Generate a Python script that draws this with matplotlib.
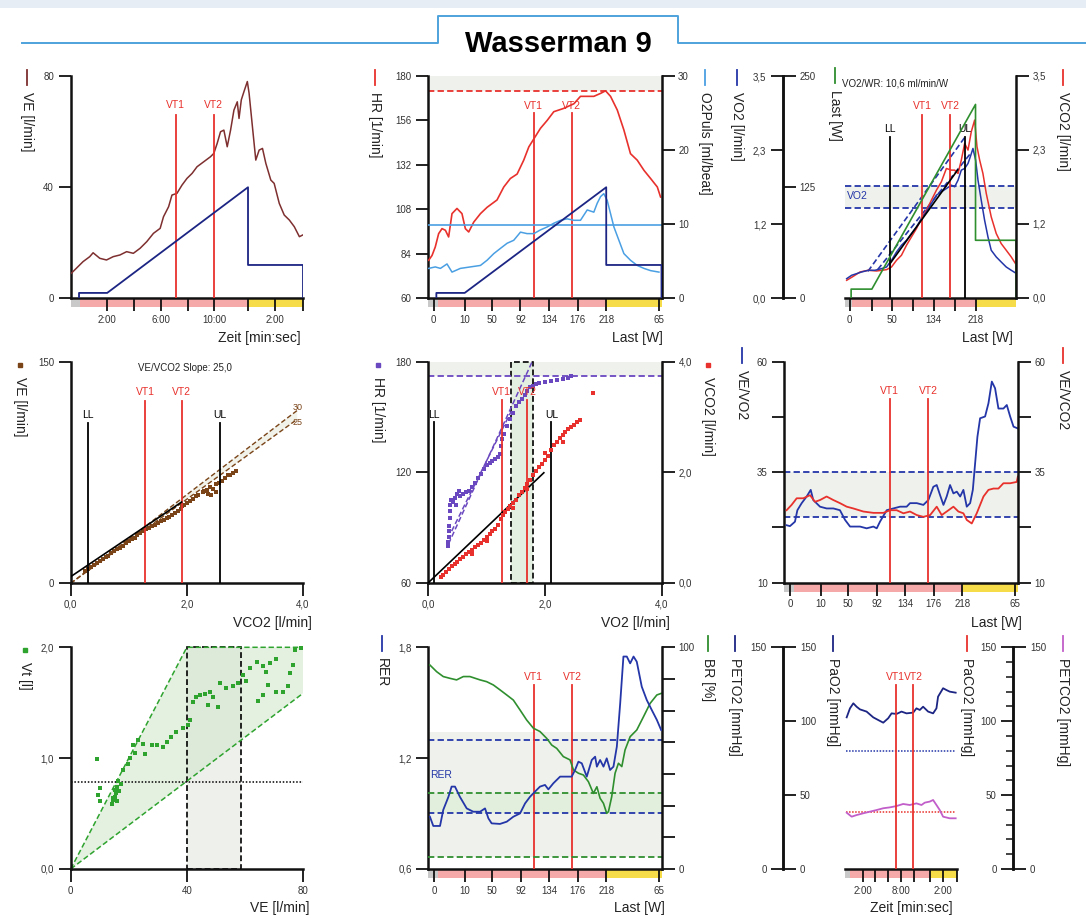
import matplotlib.pyplot as plt
from matplotlib import font_manager
from matplotlib.lines import Line2D
from matplotlib.patches import Rectangle, Polygon

plt.rcParams['font.family'] = ['Liberation Sans', 'DejaVu Sans']

# colours
RED = '#e8312c'
NAVY = '#1c2583'
BROWN = '#7e2f2f'
LBLUE = '#4a9fe3'
BLUE = '#2436a8'
GREEN = '#2f8f2f'
PURPLE = '#6a48c0'
MAGENTA = '#c25ec9'
SCATBROWN = '#7a4418'
SCATGREEN = '#2ea32e'
FILL = '#eff2ec'
DASH = (0, (3.5, 1.8))

# protocol (time in minutes)
t_start, t_end = -0.72, 16.6
phase_edges = [-0.72, 0.0, 12.5, 16.6]
phase_colors = ['#c9c9c9', '#f5a9a9', '#f6dc48']
load_t = [-0.1, -0.1, 2.0, 12.5, 12.5, 16.6, 16.6]
load_w = [0, 10, 10, 218, 65, 65, 0]
vt_t = [7.12, 9.95]
load_tick_t = [-0.3, 2, 4.02, 6.14, 8.26, 10.38, 12.5, 16.4]
load_tick_lab = ['0', '10', '50', '92', '134', '176', '218', '65']

# panel 1: VE over time
ve_t = [-0.68, -0.30, 0.20, 0.70, 0.95, 1.45, 1.95, 2.45, 2.95, 3.45, 3.95, 4.45, 4.95, 5.45,
        5.95, 6.20, 6.58, 6.83, 7.20, 7.58, 7.95, 8.33, 8.70, 9.20, 9.70, 9.95, 10.20, 10.45,
        10.70, 10.95, 11.20, 11.45, 11.70, 11.83, 12.00, 12.20, 12.45, 12.58, 12.83, 13.08,
        13.33, 13.58, 13.83, 14.20, 14.45, 14.83, 15.20, 15.58, 15.95, 16.33, 16.58]
ve_val = [8.9, 10.7, 13.1, 14.9, 16.3, 14.3, 13.7, 14.9, 15.5, 16.7, 16.1, 17.9, 20.3, 23.3,
          25.1, 29.3, 32.9, 37.1, 37.7, 40.7, 43.1, 44.9, 47.3, 49.1, 50.9, 52.1, 55.7, 59.9,
          60.5, 54.5, 60.5, 67.7, 70.7, 64.7, 71.4, 74.4, 78.0, 73.8, 61.7, 49.7, 53.3, 53.9,
          48.5, 42.5, 41.3, 34.1, 29.9, 28.1, 25.7, 22.1, 22.7]

# panel 2: HR and O2 pulse
hr_t = [-0.67, -0.42, -0.18, 0.07, 0.32, 0.57, 0.81, 1.06, 1.43, 1.80, 2.05, 2.30, 2.67, 3.17,
        3.66, 4.40, 4.90, 5.39, 5.89, 6.38, 6.76, 7.13, 7.62, 8.12, 8.61, 9.35, 10.10, 10.59,
        11.58, 12.08, 12.45, 12.82, 13.32, 13.81, 14.30, 14.80, 15.30, 15.79, 16.29, 16.53]
hr_val = [80.4, 83, 87.6, 94.8, 97.5, 96.6, 93, 105.6, 108.4, 105.6, 97.5, 95.7, 101, 105.6,
          109, 113, 120, 124.6, 127, 134.5, 141.7, 146, 151.7, 156, 160.7, 162.5, 165, 169,
          169, 170.6, 172, 169, 161.6, 150.8, 138, 134.5, 129, 124.6, 120, 114.6]
o2p_t = [-0.67, -0.18, 0.20, 0.69, 1.06, 1.68, 2.42, 3.17, 3.66, 4.16, 4.65, 5.15, 5.64, 6.14,
         6.63, 7.13, 7.62, 8.12, 8.61, 9.11, 9.60, 10.10, 10.59, 11.09, 11.58, 11.83, 12.08,
         12.32, 12.57, 12.82, 13.07, 13.44, 13.81, 14.30, 14.80, 15.30, 15.79, 16.41]
o2p_val = [4.0, 4.2, 4.0, 4.6, 3.5, 4.0, 4.2, 4.4, 5.1, 6.0, 6.7, 7.4, 7.8, 8.9, 8.7, 8.7, 9.2,
           9.6, 10.1, 10.5, 10.7, 10.5, 10.5, 11.9, 11.6, 12.8, 13.7, 14.1, 13.2, 11.4, 9.6,
           7.8, 6.0, 5.1, 4.4, 4.0, 3.7, 3.5]

# panel 3: VO2 / VCO2 / load
vo2_t = [-0.55, -0.05, 0.46, 0.96, 1.64, 2.31, 2.98, 3.49, 3.99, 4.50, 5.00, 5.51, 6.01, 6.52,
         7.02, 7.53, 8.03, 8.54, 9.04, 9.55, 10.05, 10.39, 10.73, 11.06, 11.40, 11.74, 11.97,
         12.24, 12.51, 12.75, 13.08, 13.42, 13.76, 14.09, 14.60, 15.10, 15.61, 16.12, 16.55]
vo2_val = [0.305, 0.358, 0.384, 0.41, 0.437, 0.437, 0.463, 0.489, 0.595, 0.726, 0.832, 0.91,
           1.016, 1.121, 1.253, 1.358, 1.49, 1.621, 1.674, 1.726, 1.779, 1.753, 1.858, 2.016,
           2.042, 2.121, 2.226, 2.358, 2.174, 1.858, 1.542, 1.226, 0.963, 0.753, 0.647, 0.568,
           0.489, 0.437, 0.395]
vco2_t = [-0.55, 0.12, 0.80, 1.64, 2.48, 3.49, 3.99, 4.50, 5.00, 5.51, 6.01, 6.52, 7.02, 7.53,
          8.03, 8.54, 9.04, 9.55, 10.05, 10.39, 10.73, 11.06, 11.40, 11.74, 12.07, 12.41,
          12.65, 12.92, 13.25, 13.59, 14.09, 14.60, 15.10, 15.61, 16.12, 16.55]
vco2_val = [0.279, 0.342, 0.41, 0.437, 0.426, 0.447, 0.489, 0.595, 0.674, 0.832, 0.963, 1.095,
            1.253, 1.384, 1.542, 1.70, 1.832, 2.042, 2.016, 2.016, 1.963, 2.174, 2.437, 2.332,
            2.621, 2.805, 2.384, 2.174, 1.963, 1.647, 1.279, 1.016, 0.858, 0.753, 0.647, 0.542]

# panel 4: VE vs VCO2
ve_vco2 = [0.25, 0.30, 0.35, 0.40, 0.45, 0.50, 0.55, 0.60, 0.65, 0.70, 0.75, 0.80, 0.85, 0.90,
           0.95, 1.00, 1.05, 1.10, 1.15, 1.20, 1.25, 1.30, 1.35, 1.40, 1.45, 1.50, 1.55, 1.60,
           1.65, 1.70, 1.75, 1.80, 1.85, 1.90, 1.92, 1.95, 2.00, 2.05, 2.10, 2.15, 2.20, 2.28,
           2.30, 2.35, 2.37, 2.40, 2.42, 2.45, 2.50, 2.50, 2.55, 2.60, 2.65, 2.70, 2.75, 2.80, 2.85]
ve_pts = [8.5, 9.8, 11.0, 12.2, 13.6, 15.0, 16.2, 17.5, 18.8, 20.2, 21.6, 23.0, 24.2, 25.5,
          27.0, 28.3, 29.8, 31.0, 32.4, 33.8, 35.2, 36.6, 37.6, 38.6, 39.8, 41.0, 42.0, 43.0,
          44.2, 45.2, 46.4, 47.6, 49.0, 50.5, 52.5, 53.0, 54.5, 55.8, 57.0, 58.8, 60.0, 61.5,
          62.5, 63.0, 60.5, 65.5, 59.5, 64.0, 67.0, 62.0, 68.2, 69.5, 71.5, 73.0, 73.5, 74.8, 76.0]

# panel 5: HR and VCO2 vs VO2
hr_vo2 = [0.33, 0.34, 0.35, 0.35, 0.36, 0.37, 0.38, 0.38, 0.39, 0.42, 0.45, 0.50, 0.55, 0.60,
          0.65, 0.70, 0.75, 0.80, 0.85, 0.90, 0.95, 1.00, 1.05, 1.10, 1.15, 1.20, 1.23, 1.25,
          1.27, 1.30, 1.35, 1.40, 1.45, 1.50, 1.55, 1.60, 1.65, 1.70, 1.75, 1.80, 1.85, 1.90,
          2.00, 2.10, 2.20, 2.30, 2.40, 2.45, 0.48, 0.52]
hr_pts = [80, 82, 85, 88, 91, 95, 99, 102, 105, 104, 106, 108, 107, 108, 109, 110, 112, 114,
          117, 119, 122, 124, 125, 126, 127, 128, 130, 134, 138, 141, 145, 149, 152, 156, 158,
          160, 162, 164, 166, 167, 168, 168.5, 169, 169.5, 170, 170.5, 171, 172, 102, 110]
vc_vo2 = [0.22, 0.25, 0.30, 0.35, 0.40, 0.45, 0.50, 0.55, 0.60, 0.65, 0.70, 0.75, 0.80, 0.85,
          0.90, 0.95, 1.00, 1.05, 1.10, 1.15, 1.20, 1.25, 1.28, 1.32, 1.36, 1.40, 1.45, 1.50,
          1.55, 1.60, 1.65, 1.70, 1.75, 1.80, 1.85, 1.90, 1.95, 2.00, 2.05, 2.10, 2.15, 2.20,
          2.25, 2.30, 2.35, 2.40, 2.45, 2.50, 2.55, 2.60, 2.83, 1.00, 0.75, 1.45, 1.70, 2.00, 2.30]
vc_pts = [0.10, 0.14, 0.20, 0.24, 0.30, 0.34, 0.38, 0.42, 0.47, 0.52, 0.56, 0.60, 0.64, 0.68,
          0.72, 0.78, 0.83, 0.88, 0.93, 0.98, 1.05, 1.15, 1.22, 1.28, 1.33, 1.38, 1.44, 1.50,
          1.58, 1.65, 1.72, 1.78, 1.86, 1.95, 2.03, 2.10, 2.15, 2.22, 2.30, 2.40, 2.50, 2.55,
          2.62, 2.68, 2.72, 2.78, 2.82, 2.86, 2.90, 2.95, 3.43, 0.75, 0.52, 1.35, 1.70, 2.35, 2.55]

# panel 6: ventilatory equivalents
eqo2_t = [-0.55, -0.30, 0.07, 0.25, 0.57, 0.94, 1.24, 1.43, 1.93, 2.42, 2.92, 3.41, 3.79, 4.16,
          4.90, 5.39, 5.89, 6.14, 6.38, 6.88, 7.37, 7.87, 8.36, 8.61, 9.11, 9.60, 9.97, 10.34,
          10.59, 10.84, 11.09, 11.33, 11.58, 11.83, 12.08, 12.33, 12.57, 12.82, 13.07, 13.27,
          13.44, 13.61, 13.81, 14.18, 14.43, 14.68, 14.92, 15.17, 15.54, 15.79, 16.04, 16.29, 16.61]
eqo2_val = [23.0, 22.8, 23.8, 26.4, 28.0, 29.5, 31.0, 28.7, 27.2, 26.8, 26.8, 26.4, 24.2, 22.7,
            22.7, 22.3, 22.7, 22.3, 23.8, 26.4, 26.8, 27.2, 27.2, 28.0, 28.0, 27.6, 28.7, 31.7,
            32.1, 29.8, 27.6, 29.5, 32.1, 30.2, 30.6, 29.5, 31.0, 27.2, 28.0, 31.0, 37.0, 43.0,
            47.2, 47.6, 50.6, 55.5, 54.0, 49.4, 49.4, 50.2, 47.6, 45.3, 44.9]
eqco2_t = [-0.55, -0.18, 0.20, 0.69, 1.19, 1.56, 1.93, 2.42, 2.92, 3.41, 3.91, 4.40, 5.15,
           5.89, 6.63, 7.13, 7.62, 8.12, 8.61, 9.11, 9.60, 10.10, 10.59, 10.96, 11.33, 11.83,
           12.20, 12.57, 12.82, 13.19, 13.56, 14.06, 14.43, 14.80, 15.17, 15.54, 16.04, 16.53, 16.61]
eqco2_val = [26.4, 27.6, 29.1, 29.1, 29.8, 28.3, 28.7, 29.5, 28.7, 28.0, 27.2, 26.8, 26.1, 25.8,
             25.8, 26.4, 26.4, 25.7, 26.1, 25.3, 24.9, 25.3, 27.2, 25.3, 26.1, 27.2, 26.1, 25.7,
             24.2, 23.4, 25.7, 29.5, 31.0, 31.3, 31.3, 32.5, 32.5, 32.8, 34.0]

# panel 7: Vt vs VE
vt_ve = [9.2, 10.1, 9.5, 10.1, 14.1, 15.2, 15.8, 16.4, 15.2, 14.7, 16.0, 14.5, 15.5, 16.8, 17.2,
         18.1, 19.8, 21.5, 23.3, 25.0, 25.5, 27.9, 29.6, 31.9, 33.0, 34.7, 36.4, 38.7, 40.5,
         41.0, 42.2, 43.3, 44.5, 46.2, 47.9, 47.3, 49.1, 50.8, 51.3, 53.6, 55.9, 57.6, 59.4,
         60.5, 61.7, 64.0, 66.2, 67.4, 68.5, 70.8, 73.1, 74.8, 75.4, 76.6, 77.1, 79.4, 64.5,
         66.2, 68.0, 70.8, 20.5, 22.0]
vt_l = [0.99, 0.73, 0.67, 0.61, 0.59, 0.65, 0.74, 0.79, 0.71, 0.64, 0.61, 0.62, 0.69, 0.70,
        0.77, 0.89, 0.95, 1.12, 1.16, 1.13, 1.04, 1.12, 1.12, 1.10, 1.15, 1.19, 1.24, 1.27,
        1.30, 1.34, 1.51, 1.55, 1.57, 1.58, 1.60, 1.48, 1.55, 1.46, 1.68, 1.63, 1.65, 1.68,
        1.75, 1.70, 1.81, 1.87, 1.83, 1.78, 1.86, 1.89, 1.60, 1.65, 1.77, 1.84, 1.98, 1.99,
        1.52, 1.57, 1.66, 1.60, 1.00, 1.05]

# panel 8: RER and breathing reserve
rer_t = [-0.60, -0.35, 0.15, 0.39, 0.77, 1.01, 1.26, 1.63, 2.13, 2.62, 3.12, 3.49, 3.74, 3.98,
         4.60, 5.10, 5.59, 6.09, 6.46, 6.83, 7.20, 7.57, 7.94, 8.19, 8.56, 9.06, 9.55, 9.92,
         10.17, 10.42, 10.67, 11.04, 11.41, 11.66, 11.79, 12.03, 12.28, 12.52, 12.77, 13.02,
         13.27, 13.52, 13.76, 14.01, 14.26, 14.51, 14.75, 15.12, 15.49, 15.86, 16.24, 16.56]
rer_val = [0.883, 0.833, 0.833, 0.92, 0.99, 1.046, 1.046, 0.99, 0.928, 0.91, 0.91, 0.928, 0.874,
           0.847, 0.844, 0.856, 0.883, 0.901, 0.955, 0.991, 1.019, 1.046, 1.055, 1.031, 1.064,
           1.10, 1.10, 1.10, 1.136, 1.181, 1.172, 1.10, 1.19, 1.208, 1.154, 1.19, 1.154, 1.199,
           1.136, 1.154, 1.262, 1.497, 1.75, 1.75, 1.713, 1.75, 1.722, 1.587, 1.515, 1.461,
           1.407, 1.352]
br_t = [-0.60, -0.10, 0.39, 0.89, 1.38, 1.88, 2.37, 3.12, 3.61, 4.11, 4.60, 5.10, 5.59, 6.09,
        6.58, 7.08, 7.57, 8.07, 8.44, 8.81, 9.30, 9.80, 10.05, 10.42, 10.79, 11.16, 11.53,
        11.79, 12.03, 12.28, 12.52, 12.65, 12.89, 13.14, 13.39, 13.64, 13.88, 14.26, 14.75,
        15.25, 15.74, 16.24, 16.56]
br_val = [92.0, 89.0, 86.8, 86.0, 85.3, 86.8, 86.8, 85.3, 84.5, 83.0, 80.8, 78.5, 76.2, 71.7,
          67.2, 63.5, 62.0, 58.9, 55.9, 54.4, 50.7, 49.2, 44.7, 43.2, 42.4, 39.4, 34.1, 37.1,
          31.9, 29.6, 25.1, 25.9, 32.6, 43.2, 47.7, 46.2, 53.7, 59.7, 62.7, 68.7, 74.7, 78.5, 79.2]

# panel 9: gas tensions
po2_t = [-0.46, 0.05, 0.57, 1.08, 1.60, 2.63, 3.66, 4.43, 5.21, 5.98, 6.50, 7.27, 8.04, 8.82,
         9.85, 10.36, 10.88, 11.39, 12.17, 12.94, 13.46, 13.71, 14.49, 15.00, 15.52, 16.44]
po2_val = [102.6, 108.7, 112.1, 109.8, 108.0, 106.5, 102.6, 100.8, 99.0, 102.0, 105.3, 104.9,
           106.5, 105.3, 105.8, 108.7, 107.6, 109.8, 106.5, 105.3, 108.7, 116.6, 122.3, 121.1,
           120.0, 119.3]
pco2_t = [-0.46, 0.31, 1.08, 2.11, 3.15, 4.18, 5.21, 6.24, 7.27, 8.30, 9.33, 10.36, 11.14,
          11.65, 12.42, 12.94, 13.46, 13.97, 14.49, 15.52, 16.44]
pco2_val = [38.1, 35.4, 36.5, 37.7, 38.8, 39.9, 41.1, 41.7, 42.6, 44.0, 43.3, 44.4, 43.3, 44.9,
            45.6, 46.7, 43.3, 39.9, 35.4, 34.3, 34.3]

W, H = 1086, 918
fig = plt.figure(figsize=(W / 100, H / 100), dpi=100)
fig.patch.set_facecolor('white')


def box(l, t, r, b):
    return [l / W, 1 - b / H, (r - l) / W, (b - t) / H]


def ftext(x, y, s, **kw):
    fig.text(x / W, 1 - y / H, s, **kw)


def fline(xs, ys, **kw):
    fig.add_artist(Line2D([x / W for x in xs], [1 - y / H for y in ys],
                          transform=fig.transFigure, **kw))


def ylab(x, y, s, color, dot=False):
    if dot:
        fline([x], [y - 12], marker='s', ms=2.5, color=color, lw=0)
    else:
        fline([x, x], [y - 22, y - 7], color=color, lw=1.3)
    ftext(x, y, s, rotation=270, ha='center', va='top', fontsize=10, color='#222222')


def style(ax, show):
    for name, sp in ax.spines.items():
        sp.set_visible(name in show)
        sp.set_linewidth(1.8)
        sp.set_color('#111111')
    ax.tick_params(axis='both', length=9, width=1.3, labelsize=7, pad=3,
                   color='#111111', labelcolor='#333333')
    ax.patch.set_visible(False)


def phase_bar(ax):
    tr = ax.get_xaxis_transform()
    for x0, x1, c in zip(phase_edges[:-1], phase_edges[1:], phase_colors):
        ax.add_patch(Rectangle((x0, -0.04), x1 - x0, 0.04, transform=tr, facecolor=c,
                               lw=0, clip_on=False, zorder=0.5))


def mark(ax, xs, labels, bottom, top, ylab_, color):
    for x, lab in zip(xs, labels):
        ax.plot([x, x], [bottom, top], color=color, lw=1.3, zorder=3)
        ax.text(x, ylab_, lab, color=color, fontsize=7.5, ha='center', va='center')


# ---- title
fig.add_artist(Rectangle((0, 1 - 8 / H), 1, 8 / H, transform=fig.transFigure,
                         color='#e7edf4', lw=0))
fline([22, 438, 438, 678, 678, 1086], [43, 43, 16, 16, 43, 43], color='#4da3dc', lw=1.4)
names = {f.name for f in font_manager.fontManager.ttflist}
if 'Liberation Sans Narrow' in names:
    ftext(558, 44, 'Wasserman 9', ha='center', va='center', fontsize=25,
          fontweight='bold', family='Liberation Sans Narrow')
else:
    ftext(558, 44, 'Wasserman 9', ha='center', va='center', fontsize=21, fontweight='bold')

# ---- panel 1
ax1 = fig.add_axes(box(70.7, 76, 303, 298))
style(ax1, ('left', 'bottom'))
ax1.set_xlim(t_start, t_end)
ax1.set_ylim(0, 80)
ax1.set_yticks([0, 40, 80])
ax1.set_xticks([2, 4, 6, 8, 10, 12.5, 14.5, 16.6])
ax1.set_xticklabels(['2:00', '', '6:00', '', '10:00', '', '2:00', ''])
phase_bar(ax1)
ax1.plot(ve_t, ve_val, color=BROWN, lw=1.1, zorder=3)
mark(ax1, vt_t, ['VT1', 'VT2'], 0, 66, 69.5, RED)
l1 = ax1.twinx()
l1.set_axis_off()
l1.set_ylim(0, 437)
l1.plot(load_t, load_w, color=NAVY, lw=1.3)

# ---- panel 2
ax2 = fig.add_axes(box(428, 76, 661.5, 298))
style(ax2, ('left', 'bottom'))
ax2.set_xlim(t_start, t_end)
ax2.set_ylim(60, 180)
ax2.set_yticks([60, 84, 108, 132, 156, 180])
ax2.set_xticks(load_tick_t)
ax2.set_xticklabels(load_tick_lab)
phase_bar(ax2)
ax2.axhspan(172, 180, color=FILL, lw=0, zorder=0)
ax2.axhline(172, color=RED, ls=DASH, lw=1.3)
ax2.plot(hr_t, hr_val, color=RED, lw=1.2, zorder=3)
mark(ax2, vt_t, ['VT1', 'VT2'], 60, 160, 164, RED)
o2 = ax2.twinx()
style(o2, ('right',))
o2.set_ylim(0, 30)
o2.set_yticks([0, 10, 20, 30])
o2.axhline(9.8, color=LBLUE, lw=1.2)
o2.plot(o2p_t, o2p_val, color=LBLUE, lw=1.1)
l2 = ax2.twinx()
l2.set_axis_off()
l2.set_ylim(0, 437)
l2.plot(load_t, load_w, color=NAVY, lw=1.3)

# ---- panel 3
ax3 = fig.add_axes(box(845, 76, 1016, 298))
style(ax3, ('left', 'bottom'))
ax3.spines['left'].set_position(('axes', -0.3626))
ax3.set_xlim(t_start, t_end)
ax3.set_ylim(0, 3.5)
ax3.set_yticks([0, 3.5 / 3, 7 / 3, 3.5])
ax3.set_yticklabels(['0,0', '1,2', '2,3', '3,5'])
ax3.set_xticks([-0.25, 2, 4.02, 6.14, 8.26, 10.38, 12.5])
ax3.set_xticklabels(['0', '', '50', '', '134', '', '218'])
phase_bar(ax3)
ax3.axhspan(1.42, 1.77, color=FILL, lw=0, zorder=0)
for yv in (1.42, 1.77):
    ax3.axhline(yv, color=BLUE, ls=DASH, lw=1.3)
ax3.text(-0.5, 1.61, 'VO2', color=BLUE, fontsize=7.5, va='center')
ax3.plot([1.6, 11.4], [0.42, 2.53], color=BLUE, ls=DASH, lw=1.2)
ax3.plot([2.6, 12.1], [0.45, 2.3], color=BLUE, ls=DASH, lw=1.2)
ax3.plot(vo2_t, vo2_val, color=BLUE, lw=1.1, zorder=3)
ax3.plot(vco2_t, vco2_val, color=RED, lw=1.1, zorder=2.9)
ax3.plot([3.83, 10.7], [0.54, 2.02], color='black', lw=1.2, zorder=3.2)
mark(ax3, [3.83, 11.4], ['LL', 'UL'], 0, 2.54, 2.66, 'black')
mark(ax3, vt_t, ['VT1', 'VT2'], 0, 2.88, 3.03, RED)
lt = ax3.twinx()
style(lt, ('right',))
lt.spines['right'].set_position(('axes', -0.3626))
lt.set_ylim(0, 250)
lt.set_yticks([0, 125, 250])
lt.plot(load_t, load_w, color=GREEN, lw=1.2)
vc3 = ax3.twinx()
style(vc3, ('right',))
vc3.set_ylim(0, 3.5)
vc3.set_yticks([0, 3.5 / 3, 7 / 3, 3.5])
vc3.set_yticklabels(['0,0', '1,2', '2,3', '3,5'])
ftext(842, 83, 'VO2/WR: 10,6 ml/min/W', fontsize=7, va='center', color='#222222')

# ---- panel 4
ax4 = fig.add_axes(box(70.7, 361.7, 303, 583.3))
style(ax4, ('left', 'bottom'))
ax4.set_xlim(0, 4)
ax4.set_ylim(0, 150)
ax4.set_yticks([0, 150])
ax4.set_xticks([0, 2, 4])
ax4.set_xticklabels(['0,0', '2,0', '4,0'])
ax4.fill([0, 3.9, 3.9], [0, 117, 111], color='#f1f2ea', lw=0, zorder=0)
ax4.plot([0, 3.9], [0, 117], color=SCATBROWN, ls=DASH, lw=1.0)
ax4.plot([0, 3.9], [0, 111], color=SCATBROWN, ls=DASH, lw=1.0)
ax4.text(3.9, 119, '30', color=SCATBROWN, fontsize=6.5, ha='center', va='center')
ax4.text(3.9, 109, '25', color=SCATBROWN, fontsize=6.5, ha='center', va='center')
ax4.plot(ve_vco2, ve_pts, 's', color=SCATBROWN, ms=2.6, mew=0, zorder=3)
ax4.plot([0, 1.91], [4.5, 55], color='black', lw=1.2, zorder=3.2)
mark(ax4, [0.29, 2.57], ['LL', 'UL'], 0, 108.7, 114, 'black')
mark(ax4, [1.28, 1.91], ['VT1', 'VT2'], 0, 123.6, 129.7, RED)
ftext(185, 368, 'VE/VCO2 Slope: 25,0', fontsize=7, ha='center', va='center', color='#222222')

# ---- panel 5
ax5 = fig.add_axes(box(428.3, 361.7, 661.7, 582.7))
style(ax5, ('left', 'bottom'))
ax5.set_xlim(0, 4)
ax5.set_ylim(60, 180)
ax5.set_yticks([60, 120, 180])
ax5.set_xticks([0, 2, 4])
ax5.set_xticklabels(['0,0', '2,0', '4,0'])
ax5.axhspan(172, 180, color=FILL, lw=0, zorder=0)
ax5.add_patch(Rectangle((1.42, 60), 0.37, 120, facecolor='#e3efe0', edgecolor='black',
                        ls=DASH, lw=1.2, clip_on=False, zorder=0.6))
ax5.axhline(172, color=PURPLE, ls=DASH, lw=1.3)
ax5.plot([0.345, 1.78], [81, 180], color=PURPLE, ls=DASH, lw=1.1)
ax5.plot([0.40, 1.42], [88, 153], color=PURPLE, ls=DASH, lw=1.1)
ax5.plot(hr_vo2, hr_pts, 's', color=PURPLE, ms=3.4, mew=0, zorder=3)
mark(ax5, [1.26, 1.70], ['VT1', 'VT2'], 60, 159, 163.7, RED)
mark(ax5, [0.10, 2.11], ['LL', 'UL'], 60, 147.4, 151, 'black')
vc5 = ax5.twinx()
style(vc5, ('right',))
vc5.set_ylim(0, 4)
vc5.set_yticks([0, 2, 4])
vc5.set_yticklabels(['0,0', '2,0', '4,0'])
vc5.plot(vc_vo2, vc_pts, 's', color=RED, ms=2.6, mew=0, zorder=3)
vc5.plot([0, 1.98], [0, 1.99], color='black', lw=1.2)

# ---- panel 6
ax6 = fig.add_axes(box(784.3, 361.7, 1017.7, 582.7))
style(ax6, ('left', 'bottom'))
ax6.set_xlim(t_start, t_end)
ax6.set_ylim(10, 60)
ax6.set_yticks([10, 22.5, 35, 47.5, 60])
ax6.set_yticklabels(['10', '', '35', '', '60'])
ax6.set_xticks(load_tick_t)
ax6.set_xticklabels(load_tick_lab)
phase_bar(ax6)
ax6.axhspan(24.8, 35, color=FILL, lw=0, zorder=0)
for yv in (24.8, 35):
    ax6.axhline(yv, color=BLUE, ls=DASH, lw=1.3)
ax6.plot(eqo2_t, eqo2_val, color=BLUE, lw=1.3, zorder=3)
mark(ax6, vt_t, ['VT1', 'VT2'], 10, 51.5, 53.3, RED)
vc6 = ax6.twinx()
style(vc6, ('right',))
vc6.set_ylim(10, 60)
vc6.set_yticks([10, 22.5, 35, 47.5, 60])
vc6.set_yticklabels(['10', '', '35', '', '60'])
vc6.plot(eqco2_t, eqco2_val, color=RED, lw=1.3)

# ---- panel 7
ax7 = fig.add_axes(box(70.7, 647.3, 303, 869))
style(ax7, ('left', 'bottom'))
ax7.set_xlim(0, 80)
ax7.set_ylim(0, 2)
ax7.set_yticks([0, 1, 2])
ax7.set_yticklabels(['0,0', '1,0', '2,0'])
ax7.set_xticks([0, 40, 80])
ax7.add_patch(Rectangle((40, 0), 18.6, 2, facecolor='#eef0ec', lw=0, zorder=0))
ax7.add_patch(Polygon([(0, 0), (40, 2), (80, 2), (80, 1.585)], closed=True,
                      facecolor='#cfe6ca', alpha=0.55, lw=0, zorder=0.1))
ax7.add_patch(Rectangle((40, 0), 18.6, 2, fill=False, edgecolor='black',
                        ls=DASH, lw=1.2, clip_on=False, zorder=0.6))
ax7.plot([0, 40, 80], [0, 2, 2], color=SCATGREEN, ls=DASH, lw=1.1, clip_on=False)
ax7.plot([0, 80], [0, 1.585], color=SCATGREEN, ls=DASH, lw=1.1)
ax7.axhline(0.782, color='black', ls=(0, (1, 1.2)), lw=1.1)
ax7.plot(vt_ve, vt_l, 's', color=SCATGREEN, ms=2.8, mew=0, zorder=3, clip_on=False)

# ---- panel 8
ax8 = fig.add_axes(box(428.3, 647.3, 661.7, 869))
style(ax8, ('left', 'bottom'))
ax8.set_xlim(t_start, t_end)
ax8.set_ylim(0.6, 1.8)
ax8.set_yticks([0.6, 1.2, 1.8])
ax8.set_yticklabels(['0,6', '1,2', '1,8'])
ax8.set_xticks(load_tick_t)
ax8.set_xticklabels(load_tick_lab)
phase_bar(ax8)
ax8.axhspan(0.667, 1.34, color=FILL, lw=0, zorder=0)
ax8.axhspan(0.901, 1.013, color='#e2efdd', lw=0, zorder=0.1)
for yv in (0.901, 1.298):
    ax8.axhline(yv, color=BLUE, ls=DASH, lw=1.3)
ax8.text(-0.6, 1.11, 'RER', color=BLUE, fontsize=7.5, va='center')
mark(ax8, vt_t, ['VT1', 'VT2'], 0.6, 1.596, 1.638, RED)
br = ax8.twinx()
style(br, ('right',))
br.set_ylim(0, 100)
br.set_yticks([0, 100 / 7, 200 / 7, 300 / 7, 400 / 7, 500 / 7, 600 / 7, 100])
br.set_yticklabels(['0', '', '', '', '', '', '', '100'])
for yv in (5.6, 34.4):
    br.axhline(yv, color=GREEN, ls=DASH, lw=1.3)
br.plot(br_t, br_val, color=GREEN, lw=1.2)
rr = ax8.twinx()
rr.set_axis_off()
rr.set_ylim(0.6, 1.8)
rr.plot(rer_t, rer_val, color=BLUE, lw=1.3)

# ---- panel 9
ax9 = fig.add_axes(box(845, 647.3, 956.7, 869))
style(ax9, ('left', 'bottom'))
ax9.spines['left'].set_position(('axes', -0.5524))
ax9.set_xlim(t_start, t_end)
ax9.set_ylim(0, 150)
ax9.set_yticks([0, 150])
ax9.set_xticks([2, 4, 6, 8, 10, 12.5, 14.5, 16.6])
ax9.set_xticklabels(['2:00', '', '', '8:00', '', '', '2:00', ''])
phase_bar(ax9)
ax9.plot([-0.5, 16.3], [80.1, 80.1], color=BLUE, ls=(0, (1, 1)), lw=1.1)
ax9.plot([-0.5, 16.3], [38.8, 38.8], color=RED, ls=(0, (1, 1)), lw=1.1)
ax9.plot(po2_t, po2_val, color=NAVY, lw=1.3, zorder=3)
ax9.plot(pco2_t, pco2_val, color=MAGENTA, lw=1.3, zorder=3)
mark(ax9, [7.12, 9.85], ['VT1', 'VT2'], 0, 124.5, 130, RED)
pa = ax9.twinx()
style(pa, ('right',))
pa.spines['right'].set_position(('axes', -0.5524))
pa.set_ylim(0, 150)
pa.set_yticks([0, 50, 100, 150])
pc = ax9.twinx()
style(pc, ('left',))
pc.yaxis.set_ticks_position('left')
pc.spines['left'].set_position(('axes', 1.5067))
pc.set_ylim(0, 150)
pc.set_yticks([0, 50, 100, 150])
pc.set_yticks(range(0, 151, 10), minor=True)
pc.tick_params(which='minor', length=5, width=1.1, color='#111111')
pe = ax9.twinx()
style(pe, ('right',))
pe.spines['right'].set_position(('axes', 1.5067))
pe.set_ylim(0, 150)
pe.set_yticks([0, 150])

# ---- axis titles
ylab(27, 92, 'VE [l/min]', BROWN)
ylab(375, 92, 'HR [1/min]', RED)
ylab(705, 92, 'O2Puls [ml/beat]', LBLUE)
ylab(737, 92, 'VO2 [l/min]', BLUE)
ylab(835, 90, 'Last [W]', GREEN)
ylab(1063, 92, 'VCO2 [l/min]', RED)
ylab(20, 377, 'VE [l/min]', SCATBROWN, dot=True)
ylab(378, 377, 'HR [1/min]', PURPLE, dot=True)
ylab(708, 377, 'VCO2 [l/min]', RED, dot=True)
ylab(742, 370, 'VE/VO2', BLUE)
ylab(1063, 370, 'VE/VCO2', RED)
ylab(25, 662, 'Vt [l]', SCATGREEN, dot=True)
ylab(382, 658, 'RER', BLUE)
ylab(708, 658, 'BR [%]', GREEN)
ylab(735, 658, 'PETO2 [mmHg]', NAVY)
ylab(833, 658, 'PaO2 [mmHg]', NAVY)
ylab(967, 658, 'PaCO2 [mmHg]', RED)
ylab(1063, 658, 'PETCO2 [mmHg]', MAGENTA)

for x, y, s in [(301, 338, 'Zeit [min:sec]'), (663, 338, 'Last [W]'), (1013, 338, 'Last [W]'),
                (312, 623, 'VCO2 [l/min]'), (670, 623, 'VO2 [l/min]'), (1022, 623, 'Last [W]'),
                (310, 908, 'VE [l/min]'), (665, 908, 'Last [W]'), (953, 908, 'Zeit [min:sec]')]:
    ftext(x, y, s, ha='right', va='center', fontsize=10, color='#222222')

fig.savefig('out.png', dpi=100, facecolor=fig.get_facecolor())
